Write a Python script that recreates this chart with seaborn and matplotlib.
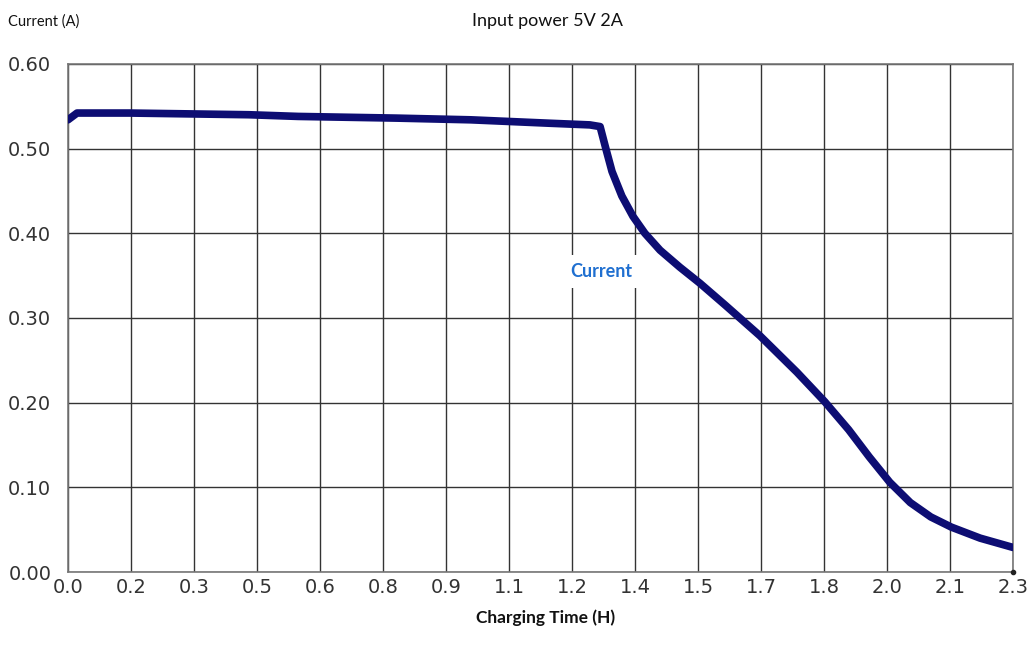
import numpy as np
import pandas as pd
import matplotlib
matplotlib.use("Agg")
import matplotlib.pyplot as plt
import seaborn as sns

# charging curve
time_h = [0.0, 0.022, 0.15, 0.44, 0.56, 0.8, 0.98, 1.17, 1.27, 1.295,
          1.309, 1.324, 1.348, 1.375, 1.404, 1.441, 1.489, 1.538, 1.60, 1.684,
          1.774, 1.842, 1.90, 1.95, 2.0, 2.05, 2.10, 2.15, 2.22, 2.3]
current_a = [0.534, 0.542, 0.542, 0.540, 0.538, 0.536, 0.534, 0.530, 0.528, 0.526,
             0.500, 0.473, 0.444, 0.420, 0.400, 0.380, 0.360, 0.341, 0.315, 0.279,
             0.236, 0.201, 0.168, 0.136, 0.106, 0.082, 0.065, 0.053, 0.040, 0.029]

n_xticks = 16
xtick_vals = np.linspace(0, 2.3, n_xticks)
xtick_labels = ["%.1f" % v for v in xtick_vals]
ytick_vals = [0.0, 0.1, 0.2, 0.3, 0.4, 0.5, 0.6]
ytick_labels = ["%.2f" % v for v in ytick_vals]

df = pd.DataFrame({"time": time_h, "current": current_a})

sns.set_style("white")
plt.rcParams['font.family'] = ['DejaVu Sans']

fig = plt.figure(figsize=(10.32, 6.59), dpi=100)
ax = fig.add_axes([0.0659, 0.132, 0.9157, 0.771])

sns.lineplot(data=df, x="time", y="current", ax=ax, color="#0d0d73",
             linewidth=5.5, solid_capstyle="round", solid_joinstyle="round", zorder=3)
# little dot at the bottom right corner
ax.plot([2.3], [0.0], marker="o", markersize=3, color="#222222", zorder=4, clip_on=False)

ax.set_xlim(0, 2.3)
ax.set_ylim(0, 0.6)
ax.set_xticks(xtick_vals)
ax.set_xticklabels(xtick_labels)
ax.set_yticks(ytick_vals)
ax.set_yticklabels(ytick_labels)
ax.tick_params(axis="both", length=0, labelsize=14, colors="#333333")
ax.tick_params(axis="y", pad=12)
ax.tick_params(axis="x", pad=4)
ax.grid(True, color="#333333", linewidth=1.0)
for s in ax.spines.values():
    s.set_color("#777777")
    s.set_linewidth(1.2)
ax.set_xlabel("")
ax.set_ylabel("")

fig.text(0.0078, 0.968, "Current (A)", fontsize=10.5, family=["Lato", "DejaVu Sans"],
         ha="left", va="center", color="#111111")
fig.text(0.530, 0.968, "Input power 5V 2A", fontsize=13, family=["Lato", "DejaVu Sans"],
         ha="center", va="center", color="#111111")
fig.text(0.5285, 0.063, "Charging Time (H)", fontsize=12.5, fontweight="bold",
         family=["Lato", "DejaVu Sans"], ha="center", va="center", color="#111111")
ax.text(1.298, 0.355, "Current", fontsize=13, fontweight="bold", family=["Lato", "DejaVu Sans"],
        ha="center", va="center", color="#1f6fd0", zorder=5,
        bbox=dict(facecolor="white", edgecolor="none", pad=6))

fig.savefig("out.png", dpi=100)
